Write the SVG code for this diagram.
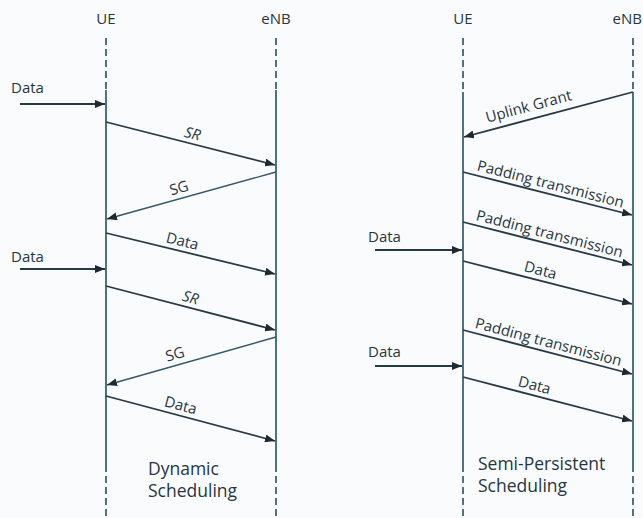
<svg xmlns="http://www.w3.org/2000/svg" width="643" height="518" viewBox="0 0 643 518">
<style>
.life{stroke:#4d7280;stroke-width:2;fill:none}
.dash{stroke:#4d7280;stroke-width:2;fill:none;stroke-dasharray:7 4}
.msg{stroke:#263a46;stroke-width:1.8;fill:none;marker-end:url(#ah)}
.msg2{stroke:#34566a;stroke-width:1.4;fill:none;marker-end:url(#ah)}
text{font-family:"Open Sans","Noto Sans",sans-serif;fill:#26363f}
.hd{font-size:15px;text-anchor:middle}
.lb{font-size:15px;text-anchor:middle}
.it{font-style:italic}
.in{font-size:15px}
.cap{font-size:17.5px}
</style>
<defs>
<marker id="ah" viewBox="0 0 10 8" refX="10" refY="4" markerWidth="10" markerHeight="8" markerUnits="userSpaceOnUse" orient="auto">
<path d="M0,0 L10,4 L0,8 Z" fill="#1e2a32"/>
</marker>
</defs>
<rect width="643" height="518" fill="#fafbfd"/>

<g id="ue-left">
<text class="hd" x="106" y="24">UE</text>
<line class="dash" x1="106" y1="38" x2="106" y2="90"/>
<line class="life" x1="106" y1="90" x2="106" y2="465"/>
<line class="dash" x1="106" y1="465" x2="106" y2="518"/>
</g>
<g id="enb-left">
<text class="hd" x="276" y="24">eNB</text>
<line class="dash" x1="276" y1="38" x2="276" y2="90"/>
<line class="life" x1="276" y1="90" x2="276" y2="465"/>
<line class="dash" x1="276" y1="465" x2="276" y2="518"/>
</g>
<g id="ue-right">
<text class="hd" x="463" y="24">UE</text>
<line class="dash" x1="463" y1="38" x2="463" y2="92"/>
<line class="life" x1="463" y1="92" x2="463" y2="465"/>
<line class="dash" x1="463" y1="465" x2="463" y2="518"/>
</g>
<g id="enb-right">
<text class="hd" x="642" y="24" style="text-anchor:end">eNB</text>
<line class="dash" x1="633" y1="38" x2="633" y2="92"/>
<line class="life" x1="633" y1="92" x2="633" y2="465"/>
<line class="dash" x1="633" y1="465" x2="633" y2="518"/>
</g>

<g id="connectors">
<!-- left panel -->
<line class="msg" x1="20" y1="104" x2="105" y2="104"/>
<line class="msg" x1="106" y1="122" x2="275" y2="165"/>
<line class="msg2" x1="276" y1="172" x2="107" y2="219"/>
<line class="msg" x1="106" y1="233" x2="275" y2="274"/>
<line class="msg" x1="20" y1="269" x2="105" y2="269"/>
<line class="msg" x1="106" y1="286" x2="275" y2="330"/>
<line class="msg2" x1="276" y1="337" x2="107" y2="385"/>
<line class="msg" x1="106" y1="396" x2="275" y2="441"/>
<!-- right panel -->
<line class="msg" x1="633" y1="92" x2="464" y2="137"/>
<line class="msg" x1="463" y1="172" x2="632" y2="215"/>
<line class="msg" x1="463" y1="222" x2="632" y2="265"/>
<line class="msg" x1="375" y1="250" x2="462" y2="250"/>
<line class="msg" x1="463" y1="261" x2="632" y2="304"/>
<line class="msg" x1="463" y1="330" x2="632" y2="374"/>
<line class="msg" x1="375" y1="366" x2="462" y2="366"/>
<line class="msg" x1="463" y1="377" x2="632" y2="421"/>
</g>

<g id="labels-left">
<text class="in" x="11" y="93">Data</text>
<text class="lb it" transform="translate(190,143.5) rotate(14.4)" y="-5">SR</text>
<text class="lb" transform="translate(182,198.7) rotate(-15.6)" y="-6">SG</text>
<text class="lb" transform="translate(180,251) rotate(13.7)" y="-5">Data</text>
<text class="in" x="11" y="262">Data</text>
<text class="lb it" transform="translate(188,307.5) rotate(14.7)" y="-5">SR</text>
<text class="lb" transform="translate(178,365) rotate(-16)" y="-6">SG</text>
<text class="lb" transform="translate(178,415) rotate(15)" y="-5">Data</text>
<text class="cap" x="148" y="475">Dynamic</text>
<text class="cap" x="148" y="497">Scheduling</text>
</g>

<g id="labels-right">
<text class="lb" transform="translate(532,119) rotate(-15)" y="-8">Uplink Grant</text>
<text class="lb" transform="translate(548,193.8) rotate(14.4)" y="-5">Padding transmission</text>
<text class="lb" transform="translate(547,243.5) rotate(14.4)" y="-5">Padding transmission</text>
<text class="in" x="368" y="242">Data</text>
<text class="lb" transform="translate(538,280) rotate(14.4)" y="-5">Data</text>
<text class="lb" transform="translate(546,351.8) rotate(14.7)" y="-5">Padding transmission</text>
<text class="in" x="368" y="357">Data</text>
<text class="lb" transform="translate(532,395) rotate(14.7)" y="-5">Data</text>
<text class="cap" x="478" y="470">Semi-Persistent</text>
<text class="cap" x="478" y="492">Scheduling</text>
</g>
</svg>
